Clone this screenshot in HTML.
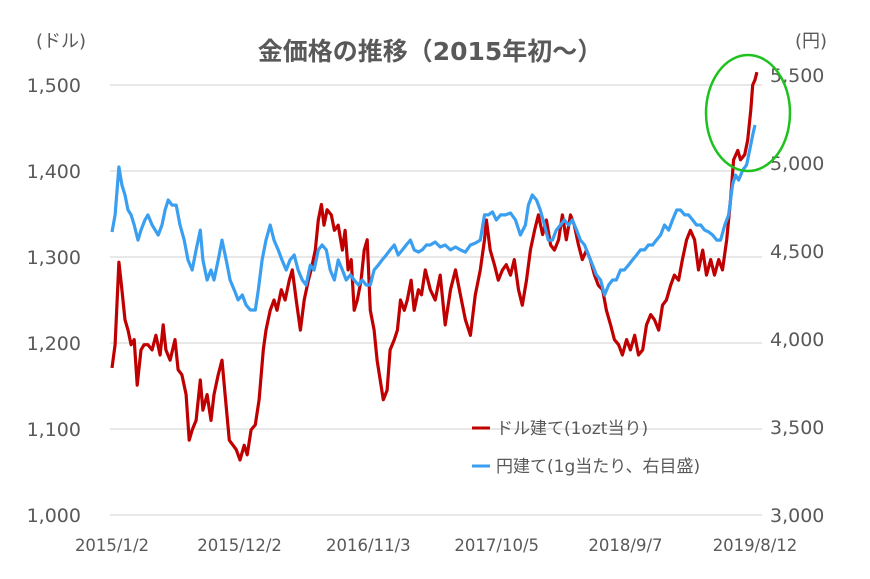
<!DOCTYPE html>
<html><head><meta charset="utf-8"><style>
body{margin:0;background:#fff;}
svg text{font-family:"DejaVu Sans","Noto Sans CJK JP",sans-serif;fill:#595959;}
</style></head><body>
<svg width="870" height="574" viewBox="0 0 870 574" xmlns="http://www.w3.org/2000/svg">
<g id="grid"></g>
<g id="axes"></g>
<g id="series"></g>
<text x="430" y="60" text-anchor="middle" font-size="25" font-weight="bold">金価格の推移（2015年初〜）</text>
<text x="36" y="47" font-size="18">(ドル)</text>
<text x="795" y="47" font-size="18">(円)</text>
<ellipse cx="748" cy="113" rx="42" ry="58" fill="none" stroke="#1ec21e" stroke-width="2.5"/>
<g>
<line x1="472" y1="428" x2="490" y2="428" stroke="#c00000" stroke-width="3"/>
<text x="496" y="434" font-size="17">ドル建て(1ozt当り)</text>
<line x1="472" y1="466" x2="490" y2="466" stroke="#3a9ff0" stroke-width="3"/>
<text x="496" y="472" font-size="17">円建て(1g当たり、右目盛)</text>
</g>
</svg>
<script>
const leftTicks=[1000,1100,1200,1300,1400,1500];
const leftTickLabels=["1,000","1,100","1,200","1,300","1,400","1,500"];
const rightTicks=[3000,3500,4000,4500,5000,5500];
const rightTickLabels=["3,000","3,500","4,000","4,500","5,000","5,500"];
const xTickDays=[0,334,671,1007,1344,1683];
const xTickLabels=["2015/1/2","2015/12/2","2016/11/3","2017/10/5","2018/9/7","2019/8/12"];
const redDays=[0,8,18,26,34,42,50,58,66,76,84,94,105,115,126,134,141,152,165,173,183,194,202,210,220,231,238,249,259,267,278,288,296,307,317,325,335,346,354,364,375,385,396,403,414,424,432,443,453,464,472,482,493,503,514,521,532,540,548,555,563,574,582,592,603,610,618,626,634,642,652,660,668,676,686,694,702,710,720,728,739,747,755,765,773,783,791,802,810,820,833,846,859,872,886,899,912,925,938,951,964,975,980,990,1001,1011,1022,1032,1043,1053,1064,1074,1085,1095,1106,1116,1127,1137,1148,1158,1169,1179,1189,1200,1210,1221,1231,1242,1252,1263,1273,1284,1294,1305,1315,1326,1336,1347,1357,1368,1378,1389,1399,1410,1420,1431,1441,1451,1462,1472,1483,1493,1504,1514,1525,1535,1546,1556,1567,1577,1588,1598,1609,1619,1627,1638,1645,1656,1664,1672,1677,1683,1688];
const redVals=[1171,1198,1294,1262,1227,1215,1198,1204,1151,1192,1198,1198,1192,1209,1186,1221,1192,1180,1204,1169,1163,1140,1087,1099,1110,1157,1122,1140,1110,1140,1163,1180,1140,1087,1081,1076,1064,1081,1070,1099,1105,1134,1192,1215,1238,1250,1238,1262,1250,1273,1285,1250,1215,1250,1273,1285,1308,1343,1361,1337,1355,1349,1331,1337,1308,1331,1285,1297,1238,1250,1273,1308,1320,1238,1215,1180,1157,1134,1145,1192,1204,1215,1250,1238,1250,1273,1238,1262,1256,1285,1262,1250,1279,1221,1262,1285,1256,1227,1209,1256,1285,1320,1343,1308,1291,1273,1285,1291,1279,1297,1262,1244,1273,1308,1331,1349,1326,1343,1314,1308,1320,1349,1320,1349,1337,1314,1297,1308,1297,1279,1267,1262,1238,1221,1204,1198,1186,1204,1192,1209,1186,1192,1221,1233,1227,1215,1244,1250,1267,1279,1273,1297,1320,1331,1320,1285,1308,1279,1297,1279,1297,1285,1320,1366,1413,1424,1413,1419,1436,1471,1500,1506,1515];
const blueDays=[0,8,18,26,34,42,50,58,68,76,86,94,105,113,121,131,139,147,157,168,178,189,199,210,220,231,238,249,259,267,278,288,299,309,320,330,341,351,362,375,383,393,403,414,424,435,445,456,466,477,487,498,508,519,529,540,550,561,571,582,592,603,613,624,634,645,655,665,676,686,697,707,718,728,739,749,760,770,781,791,802,812,823,833,846,859,872,886,899,912,925,938,951,964,975,985,996,1006,1017,1030,1043,1056,1069,1082,1090,1100,1111,1121,1132,1142,1153,1163,1174,1184,1195,1205,1216,1226,1237,1247,1258,1268,1279,1289,1300,1310,1320,1331,1341,1352,1362,1373,1383,1394,1404,1415,1425,1436,1446,1457,1467,1478,1488,1499,1509,1520,1530,1541,1551,1562,1572,1583,1593,1604,1614,1624,1632,1640,1651,1661,1669,1677,1683];
const blueVals=[4608,4705,4977,4875,4818,4733,4705,4648,4562,4619,4676,4705,4648,4619,4591,4648,4733,4790,4761,4761,4648,4562,4449,4392,4506,4619,4449,4335,4392,4335,4449,4562,4449,4335,4278,4222,4250,4193,4165,4165,4278,4449,4562,4648,4562,4506,4449,4392,4449,4477,4392,4335,4307,4420,4392,4506,4534,4506,4392,4335,4449,4392,4335,4364,4335,4307,4335,4307,4307,4392,4420,4449,4477,4506,4534,4477,4506,4534,4562,4506,4494,4506,4534,4534,4551,4523,4534,4506,4523,4506,4494,4534,4545,4562,4705,4705,4722,4676,4705,4705,4716,4676,4591,4648,4761,4818,4790,4733,4648,4562,4562,4619,4648,4676,4648,4676,4619,4562,4534,4477,4420,4364,4335,4250,4307,4335,4335,4392,4392,4420,4449,4477,4506,4506,4534,4534,4562,4591,4648,4619,4676,4733,4733,4705,4705,4676,4648,4648,4619,4608,4591,4562,4562,4648,4705,4875,4932,4903,4960,4989,5074,5159,5216];

const NS="http://www.w3.org/2000/svg";
const X0=112,X1=755,DMAX=1683;
function xs(d){return X0+d*(X1-X0)/DMAX;}
function yL(v){return 515-(v-1000)*0.86;}
function yR(v){return 515-(v-3000)*0.176;}
const grid=document.getElementById('grid'),axes=document.getElementById('axes'),series=document.getElementById('series');
function mk(tag,attrs,parent){const e=document.createElementNS(NS,tag);for(const k in attrs)e.setAttribute(k,attrs[k]);parent.appendChild(e);return e;}
leftTicks.forEach((v,i)=>{
  const l=mk('line',{x1:110,x2:762,y1:yL(v),y2:yL(v),stroke:'#d9d9d9','stroke-width':1.3},grid);
  
  
  const t=mk('text',{x:81,y:yL(v)+7,'text-anchor':'end','font-size':19},axes);
  t.textContent=leftTickLabels[i];
  
  
});
rightTicks.forEach((v,i)=>{
  const t=mk('text',{x:770,y:yR(v)+7,'font-size':19},axes);
  t.textContent=rightTickLabels[i];
  
  
});
xTickDays.forEach((d,i)=>{
  const t=mk('text',{x:xs(d),y:551,'text-anchor':'middle','font-size':16.5},axes);
  t.textContent=xTickLabels[i];
  
  
});
function line(days,vals,yf,color,name){
  const pts=days.map((d,i)=>xs(d).toFixed(1)+','+yf(vals[i]).toFixed(1)).join(' ');
  const p=mk('polyline',{points:pts,fill:'none',stroke:color,'stroke-width':3.2,'stroke-linejoin':'round'},series);
  
  
}
line(redDays,redVals,yL,'#c00000','usd-price-line');
line(blueDays,blueVals,yR,'#3a9ff0','jpy-price-line');
</script>
</body></html>
